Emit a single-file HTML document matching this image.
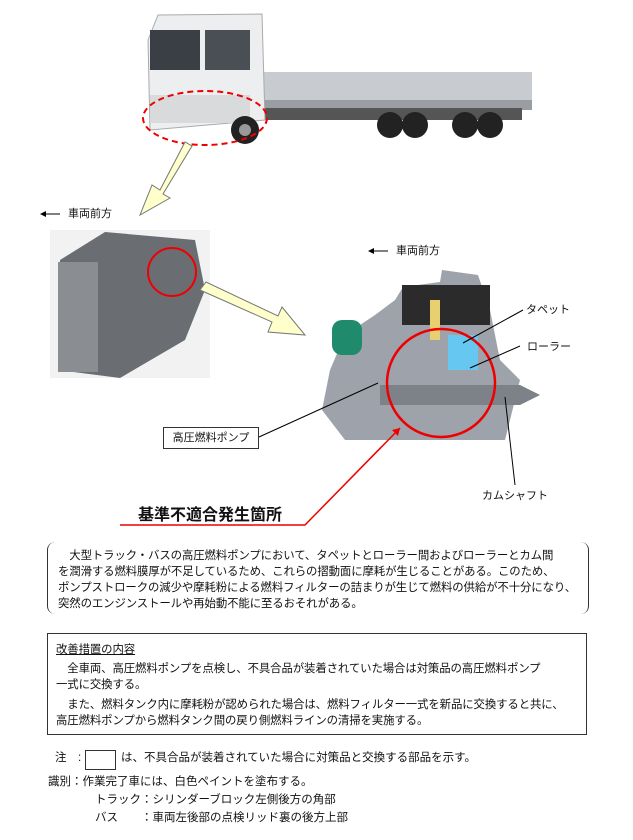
<!DOCTYPE html>
<html><head><meta charset="utf-8">
<style>
body{margin:0;width:633px;height:840px;background:#fff;position:relative;overflow:hidden;font-family:"Liberation Sans","Noto Sans CJK JP",sans-serif;color:#111}
.t{position:absolute;font-size:11.5px;white-space:nowrap;line-height:16px}
.b1{position:absolute;left:47px;top:542px;width:540px;height:72px;border-left:1.5px solid #333;border-right:1.5px solid #333;border-radius:8px}
.b2{position:absolute;left:47px;top:633px;width:538px;height:100px;border:1px solid #333}
.p{position:absolute;left:10px;font-size:11.4px;line-height:16px;white-space:nowrap;letter-spacing:-0.1px}
</style></head><body>
<svg width="633" height="540" style="position:absolute;left:0;top:0">
<rect x="262" y="72" width="270" height="38" fill="#c8cbcf"/>
<rect x="262" y="100" width="270" height="10" fill="#9a9da2"/>
<rect x="262" y="108" width="260" height="12" fill="#555"/>
<path d="M148 40 L158 15 L262 14 L265 120 L150 130 Z" fill="#eceef0" stroke="#aaa"/>
<rect x="150" y="30" width="50" height="40" fill="#3a3f45"/>
<rect x="205" y="30" width="45" height="40" fill="#4a4f55"/>
<rect x="150" y="95" width="100" height="28" fill="#d8dadc"/>
<circle cx="245" cy="130" r="14" fill="#222"/><circle cx="245" cy="130" r="6" fill="#999"/>
<circle cx="390" cy="125" r="13" fill="#222"/><circle cx="415" cy="125" r="13" fill="#222"/>
<circle cx="465" cy="125" r="13" fill="#222"/><circle cx="490" cy="125" r="13" fill="#222"/>
<ellipse cx="205" cy="118" rx="62" ry="27" fill="none" stroke="#e00" stroke-width="2" stroke-dasharray="6,4"/>
<path d="M185 142 L160 190 L152 185 L140 215 L170 198 L163 194 L192 146 Z" fill="#ffffcc" stroke="#777"/>
<rect x="50" y="230" width="160" height="148" fill="#f2f2f2"/>
<path d="M60 260 L105 232 L195 240 L205 290 L185 340 L120 378 L58 370 Z" fill="#6a6d72"/>
<rect x="58" y="262" width="40" height="110" fill="#8a8d91"/>
<circle cx="172" cy="272" r="24" fill="none" stroke="#e00" stroke-width="2"/>
<path d="M200 290 L272 322 L268 332 L305 335 L282 307 L278 316 L206 282 Z" fill="#ffffcc" stroke="#777"/>
<path d="M403 287 L440 282 L442 270 L478 275 L490 310 L500 360 L520 380 L505 440 L345 440 L322 410 L330 370 L345 335 L375 315 L395 300 Z" fill="#9ea3ab"/>
<rect x="402" y="285" width="88" height="40" fill="#2b2b2b"/>
<rect x="332" y="320" width="30" height="35" rx="10" fill="#1f8a6c"/>
<rect x="448" y="335" width="30" height="35" fill="#66c8f0"/>
<path d="M380 385 L520 385 L540 395 L520 405 L380 405 Z" fill="#7d8188"/>
<rect x="430" y="300" width="10" height="40" fill="#e8d070"/>
<circle cx="441" cy="383" r="54" fill="none" stroke="#e00" stroke-width="2.5"/>
<line x1="463" y1="343" x2="523" y2="310" stroke="#000"/>
<line x1="470" y1="368" x2="520" y2="346" stroke="#000"/>
<line x1="378" y1="383" x2="259" y2="437" stroke="#000"/>
<line x1="505" y1="397" x2="515" y2="485" stroke="#000"/>
<polyline points="120,525 305,525 400,428" fill="none" stroke="#e00" stroke-width="1.5"/>
<path d="M400 428 L392 430 L398 436 Z" fill="#e00"/>
<line x1="44" y1="214" x2="60" y2="214" stroke="#000"/><path d="M40 214 L46 211 L46 217Z"/>
<line x1="372" y1="251" x2="388" y2="251" stroke="#000"/><path d="M368 251 L374 248 L374 254Z"/>
</svg>
<div class="t" style="left:68px;top:206px;font-size:11px">車両前方</div>
<div class="t" style="left:396px;top:243px;font-size:11px">車両前方</div>
<div class="t" style="left:526px;top:302px;font-size:11px">タペット</div>
<div class="t" style="left:527px;top:339px;font-size:11px">ローラー</div>
<div class="t" style="left:163px;top:427px;width:94px;height:20px;border:1px solid #333;font-size:11px;line-height:20px;text-align:center">高圧燃料ポンプ</div>
<div class="t" style="left:482px;top:488px;font-size:11px">カムシャフト</div>
<div class="t" style="left:138px;top:506px;font-size:16px;font-weight:bold;line-height:20px">基準不適合発生箇所</div>
<div class="b1">
<div class="p" style="top:6px">　大型トラック・バスの高圧燃料ポンプにおいて、タペットとローラー間およびローラーとカム間</div>
<div class="p" style="top:22px">を潤滑する燃料膜厚が不足しているため、これらの摺動面に摩耗が生じることがある。このため、</div>
<div class="p" style="top:38px">ポンプストロークの減少や摩耗粉による燃料フィルターの詰まりが生じて燃料の供給が不十分になり、</div>
<div class="p" style="top:54px">突然のエンジンストールや再始動不能に至るおそれがある。</div>
</div>
<div class="b2">
<div class="p" style="top:8px;left:8px;text-decoration:underline">改善措置の内容</div>
<div class="p" style="top:27px;left:8px">　全車両、高圧燃料ポンプを点検し、不具合品が装着されていた場合は対策品の高圧燃料ポンプ</div>
<div class="p" style="top:43px;left:8px">一式に交換する。</div>
<div class="p" style="top:63px;left:8px">　また、燃料タンク内に摩耗粉が認められた場合は、燃料フィルター一式を新品に交換すると共に、</div>
<div class="p" style="top:79px;left:8px">高圧燃料ポンプから燃料タンク間の戻り側燃料ラインの清掃を実施する。</div>
</div>
<div class="t" style="left:55px;top:750px">注　:</div>
<div style="position:absolute;left:85px;top:750px;width:29px;height:18px;border:1px solid #333"></div>
<div class="t" style="left:121px;top:750px">は、不具合品が装着されていた場合に対策品と交換する部品を示す。</div>
<div class="t" style="left:48px;top:774px">識別：作業完了車には、白色ペイントを塗布する。</div>
<div class="t" style="left:95px;top:792px">トラック：シリンダーブロック左側後方の角部</div>
<div class="t" style="left:95px;top:810px">バス　　：車両左後部の点検リッド裏の後方上部</div>
</body></html>
